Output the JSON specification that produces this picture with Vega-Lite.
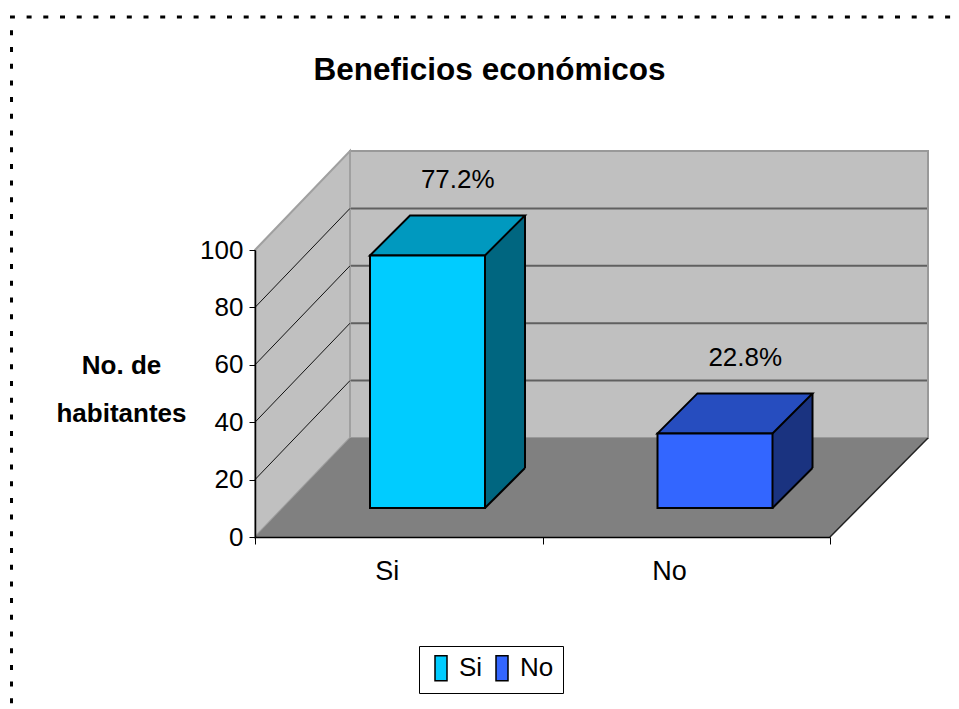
{
  "$schema": "https://vega.github.io/schema/vega-lite/v6.json",
  "width": 673,
  "height": 386,
  "autosize": "none",
  "padding": {"left": 255, "top": 151, "right": 31, "bottom": 172},
  "background": "white",
  "config": {"view": {"stroke": null}},
  "title": {
    "text": "Beneficios económicos",
    "font": "Liberation Sans",
    "fontWeight": "bold",
    "fontSize": 31.5,
    "color": "black",
    "anchor": "middle",
    "frame": "group",
    "dx": -102,
    "offset": -75
  },
  "data": {"values": [
    {"cat": "Si", "n": 88, "pct": "77.2%"},
    {"cat": "No", "n": 26, "pct": "22.8%"}
  ]},
  "layer": [
    {
      "data": {"values": [{"w": 1}]},
      "mark": {"type": "rect", "fill": "#C0C0C0", "stroke": "#999999", "strokeWidth": 2, "xOffset": 95, "x2Offset": 98, "yOffset": -99, "y2Offset": -99},
      "encoding": {
        "x": {"datum": "Si", "type": "nominal", "bandPosition": 0},
        "x2": {"datum": "No", "bandPosition": 1},
        "y": {"datum": 100, "type": "quantitative"},
        "y2": {"datum": 0}
      }
    },
    {
      "data": {"values": [{"w": 1}]},
      "mark": {"type": "point", "shape": "M0,0 L0,-287 L95,-386 L95,-99 Z", "size": 4, "filled": true, "fill": "#C0C0C0", "stroke": "#A0A0A0", "strokeWidth": 2, "opacity": 1},
      "encoding": {
        "x": {"datum": "Si", "type": "nominal", "bandPosition": 0},
        "y": {"datum": 0, "type": "quantitative"}
      }
    },
    {
      "data": {"values": [{"w": 1}]},
      "mark": {"type": "point", "shape": "M0,0 L575,0 L673,-99 L95,-99 Z", "size": 4, "filled": true, "fill": "#808080", "strokeWidth": 0, "opacity": 1},
      "encoding": {
        "x": {"datum": "Si", "type": "nominal", "bandPosition": 0},
        "y": {"datum": 0, "type": "quantitative"}
      }
    },
    {
      "data": {"values": [{"w": 1}]},
      "mark": {"type": "point", "shape": "M575,0 L673,-99", "size": 4, "filled": false, "stroke": "#222222", "strokeWidth": 1.5, "opacity": 1},
      "encoding": {
        "x": {"datum": "Si", "type": "nominal", "bandPosition": 0},
        "y": {"datum": 0, "type": "quantitative"}
      }
    },
    {
      "data": {"values": [{"v": 20}, {"v": 40}, {"v": 60}, {"v": 80}]},
      "mark": {"type": "rule", "stroke": "#606060", "strokeWidth": 2, "xOffset": 96, "x2Offset": 97, "yOffset": -99},
      "encoding": {
        "x": {"datum": "Si", "type": "nominal", "bandPosition": 0},
        "x2": {"datum": "No", "bandPosition": 1},
        "y": {"field": "v", "type": "quantitative"}
      }
    },
    {
      "data": {"values": [{"v": 20}, {"v": 40}, {"v": 60}, {"v": 80}]},
      "mark": {"type": "rule", "stroke": "#111111", "strokeWidth": 1, "x2Offset": 95, "y2Offset": -99},
      "encoding": {
        "x": {"datum": "Si", "type": "nominal", "bandPosition": 0},
        "x2": {"datum": "Si", "bandPosition": 0},
        "y": {"field": "v", "type": "quantitative"},
        "y2": {"field": "v"}
      }
    },
    {
      "mark": {"type": "bar", "width": 40, "xOffset": 106.25, "yOffset": -69, "y2Offset": -29, "strokeWidth": 0},
      "encoding": {
        "x": {"field": "cat", "type": "nominal"},
        "y": {"field": "n", "type": "quantitative"},
        "y2": {"datum": 0},
        "fill": {"condition": {"test": "datum.cat === 'Si'", "value": "#006680"}, "value": "#1A3380"}
      }
    },
    {
      "mark": {"type": "point", "shape": "M86.25,-29 L126.25,-69 L127.5,-69 L127.5,-27.5 L86.25,-27.5 Z", "size": 4, "filled": true, "fill": "#808080", "strokeWidth": 0, "opacity": 1},
      "encoding": {
        "x": {"field": "cat", "type": "nominal"},
        "y": {"datum": 0, "type": "quantitative"}
      }
    },
    {
      "mark": {"type": "rule", "stroke": "black", "strokeWidth": 2, "xOffset": 126.25, "yOffset": -69, "y2Offset": -69},
      "encoding": {
        "x": {"field": "cat", "type": "nominal"},
        "y": {"field": "n", "type": "quantitative"},
        "y2": {"datum": 0}
      }
    },
    {
      "mark": {"type": "point", "shape": "M86.25,-29 L126.25,-69", "size": 4, "filled": false, "stroke": "black", "strokeWidth": 2, "opacity": 1},
      "encoding": {
        "x": {"field": "cat", "type": "nominal"},
        "y": {"datum": 0, "type": "quantitative"}
      }
    },
    {
      "mark": {"type": "point", "shape": "M-28.75,-29 L86.25,-29 L126.25,-69 L11.25,-69 Z", "size": 4, "filled": true, "stroke": "black", "strokeWidth": 2, "opacity": 1},
      "encoding": {
        "x": {"field": "cat", "type": "nominal"},
        "y": {"field": "n", "type": "quantitative"},
        "fill": {"condition": {"test": "datum.cat === 'Si'", "value": "#0099BF"}, "value": "#264DBF"}
      }
    },
    {
      "mark": {"type": "bar", "width": 115, "xOffset": 28.75, "yOffset": -29, "y2Offset": -29, "stroke": "black", "strokeWidth": 2},
      "encoding": {
        "x": {
          "field": "cat", "type": "nominal", "sort": ["Si", "No"],
          "scale": {"domain": ["Si", "No"], "range": [0, 575], "paddingInner": 0, "paddingOuter": 0},
          "axis": {
            "title": null, "zindex": 1, "domainColor": "black", "domainWidth": 1.5,
            "tickColor": "black", "tickSize": 7, "tickWidth": 1, "tickBand": "extent",
            "labelAngle": 0, "labelFont": "Liberation Sans", "labelFontSize": 27,
            "labelColor": "black", "labelPadding": 27, "grid": false
          }
        },
        "y": {
          "field": "n", "type": "quantitative",
          "scale": {"domain": [0, 100], "range": [386, 99], "nice": false},
          "axis": {
            "values": [0, 20, 40, 60, 80, 100], "zindex": 1, "grid": false,
            "domainColor": "black", "domainWidth": 1.5, "tickColor": "black", "tickSize": 6, "tickWidth": 1,
            "labelFont": "Liberation Sans", "labelFontSize": 26, "labelColor": "black", "labelPadding": 6,
            "title": ["No. de", "habitantes"], "titleFont": "Liberation Sans", "titleFontWeight": "bold",
            "titleFontSize": 26, "titleColor": "black", "titleAngle": 0, "titleAlign": "center",
            "titleBaseline": "middle", "titleX": -134, "titleY": 214, "titleLineHeight": 48
          }
        },
        "y2": {"datum": 0},
        "color": {
          "field": "cat", "type": "nominal",
          "scale": {"domain": ["Si", "No"], "range": ["#00CCFF", "#3366FF"]},
          "legend": {
            "orient": "none", "legendX": 164, "legendY": 495, "direction": "horizontal", "title": null,
            "labelFont": "Liberation Sans", "labelFontSize": 26, "labelColor": "black",
            "symbolType": "M-1,-2.08H1V2.08H-1Z", "symbolSize": 144,
            "symbolStrokeColor": "black", "symbolStrokeWidth": 1.5, "symbolOpacity": 1,
            "strokeColor": "black", "padding": 9, "labelOffset": 5, "columnPadding": 6
          }
        }
      }
    },
    {
      "mark": {"type": "text", "dx": 59, "dy": -104, "font": "Liberation Sans", "fontSize": 26, "color": "black", "baseline": "middle", "align": "center"},
      "encoding": {
        "x": {"field": "cat", "type": "nominal"},
        "y": {"field": "n", "type": "quantitative"},
        "text": {"field": "pct"}
      }
    },
    {
      "data": {"values": [{"w": 1}]},
      "mark": {"type": "point", "shape": "M-243.5,470 L-243.5,-233 L720,-233", "size": 4, "filled": false, "stroke": "black", "strokeWidth": 3, "strokeDash": [5, 11.7], "opacity": 1},
      "encoding": {
        "x": {"datum": "Si", "type": "nominal", "bandPosition": 0},
        "y": {"datum": 100, "type": "quantitative"}
      }
    }
  ]
}
